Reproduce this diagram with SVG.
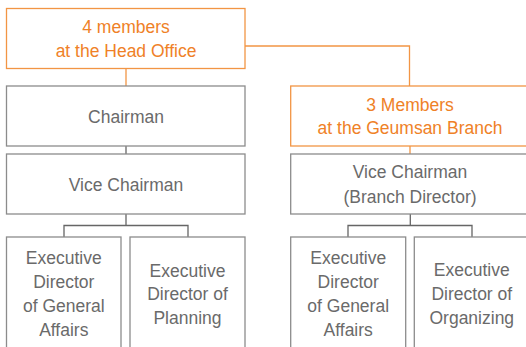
<svg xmlns="http://www.w3.org/2000/svg" width="526" height="347" viewBox="0 0 526 347">
<style>
.o{fill:#fff;stroke:#F29544;stroke-width:1.3}
.g{fill:#fff;stroke:#8C8C8C;stroke-width:1.3}
.ot{font-family:"Liberation Sans",Arial,sans-serif;font-size:17.5px;fill:#EF8127;text-anchor:middle}
.gt{font-family:"Liberation Sans",Arial,sans-serif;font-size:17.5px;fill:#6A6A6A;text-anchor:middle}
.co{fill:none;stroke:#F29544;stroke-width:1.3}
.cg{fill:none;stroke:#666;stroke-width:1.3}
</style>
<g id="connectors">
<path class="co" d="M245 46H409.5V86"/>
<path class="co" d="M126 68.5V86"/>
<path class="co" d="M410 146V154"/>
<path class="cg" d="M126 146V154"/>
<path class="cg" d="M126 214V225.5M64 237V225.5H188V237"/>
<path class="cg" d="M410.3 214V225.5M348 237V225.5H472V237"/>
</g>
<g id="head-office">
<rect class="o" x="6.5" y="8.5" width="238.5" height="60"/>
<text class="ot" x="126" y="33.3">4 members</text>
<text class="ot" x="126" y="56.7">at the Head Office</text>
</g>
<g id="chairman">
<rect class="g" x="6.5" y="86" width="238.5" height="60"/>
<text class="gt" x="126" y="123.3">Chairman</text>
</g>
<g id="vice-chairman">
<rect class="g" x="6.5" y="154" width="238.5" height="60"/>
<text class="gt" x="126" y="190.7">Vice Chairman</text>
</g>
<g id="exec-general-affairs">
<rect class="g" x="6.5" y="237" width="114.5" height="120"/>
<text class="gt" x="63.8" y="264">Executive</text>
<text class="gt" x="63.8" y="288">Director</text>
<text class="gt" x="63.8" y="312">of General</text>
<text class="gt" x="63.8" y="336">Affairs</text>
</g>
<g id="exec-planning">
<rect class="g" x="130" y="237" width="115" height="120"/>
<text class="gt" x="187.5" y="276.5">Executive</text>
<text class="gt" x="187.5" y="300.3">Director of</text>
<text class="gt" x="187.5" y="324">Planning</text>
</g>
<g id="geumsan-branch">
<rect class="o" x="290.7" y="86" width="238.5" height="60"/>
<text class="ot" x="410" y="111">3 Members</text>
<text class="ot" x="410" y="134.3">at the Geumsan Branch</text>
</g>
<g id="vice-chairman-branch">
<rect class="g" x="290.7" y="154" width="238.5" height="60"/>
<text class="gt" x="410" y="178.3">Vice Chairman</text>
<text class="gt" x="410" y="202.7">(Branch Director)</text>
</g>
<g id="branch-exec-general-affairs">
<rect class="g" x="290.7" y="237" width="115" height="120"/>
<text class="gt" x="348.2" y="263.5">Executive</text>
<text class="gt" x="348.2" y="287.5">Director</text>
<text class="gt" x="348.2" y="311.5">of General</text>
<text class="gt" x="348.2" y="335.5">Affairs</text>
</g>
<g id="branch-exec-organizing">
<rect class="g" x="414.3" y="237" width="115" height="120"/>
<text class="gt" x="471.8" y="276">Executive</text>
<text class="gt" x="471.8" y="300">Director of</text>
<text class="gt" x="471.8" y="324">Organizing</text>
</g>
</svg>
